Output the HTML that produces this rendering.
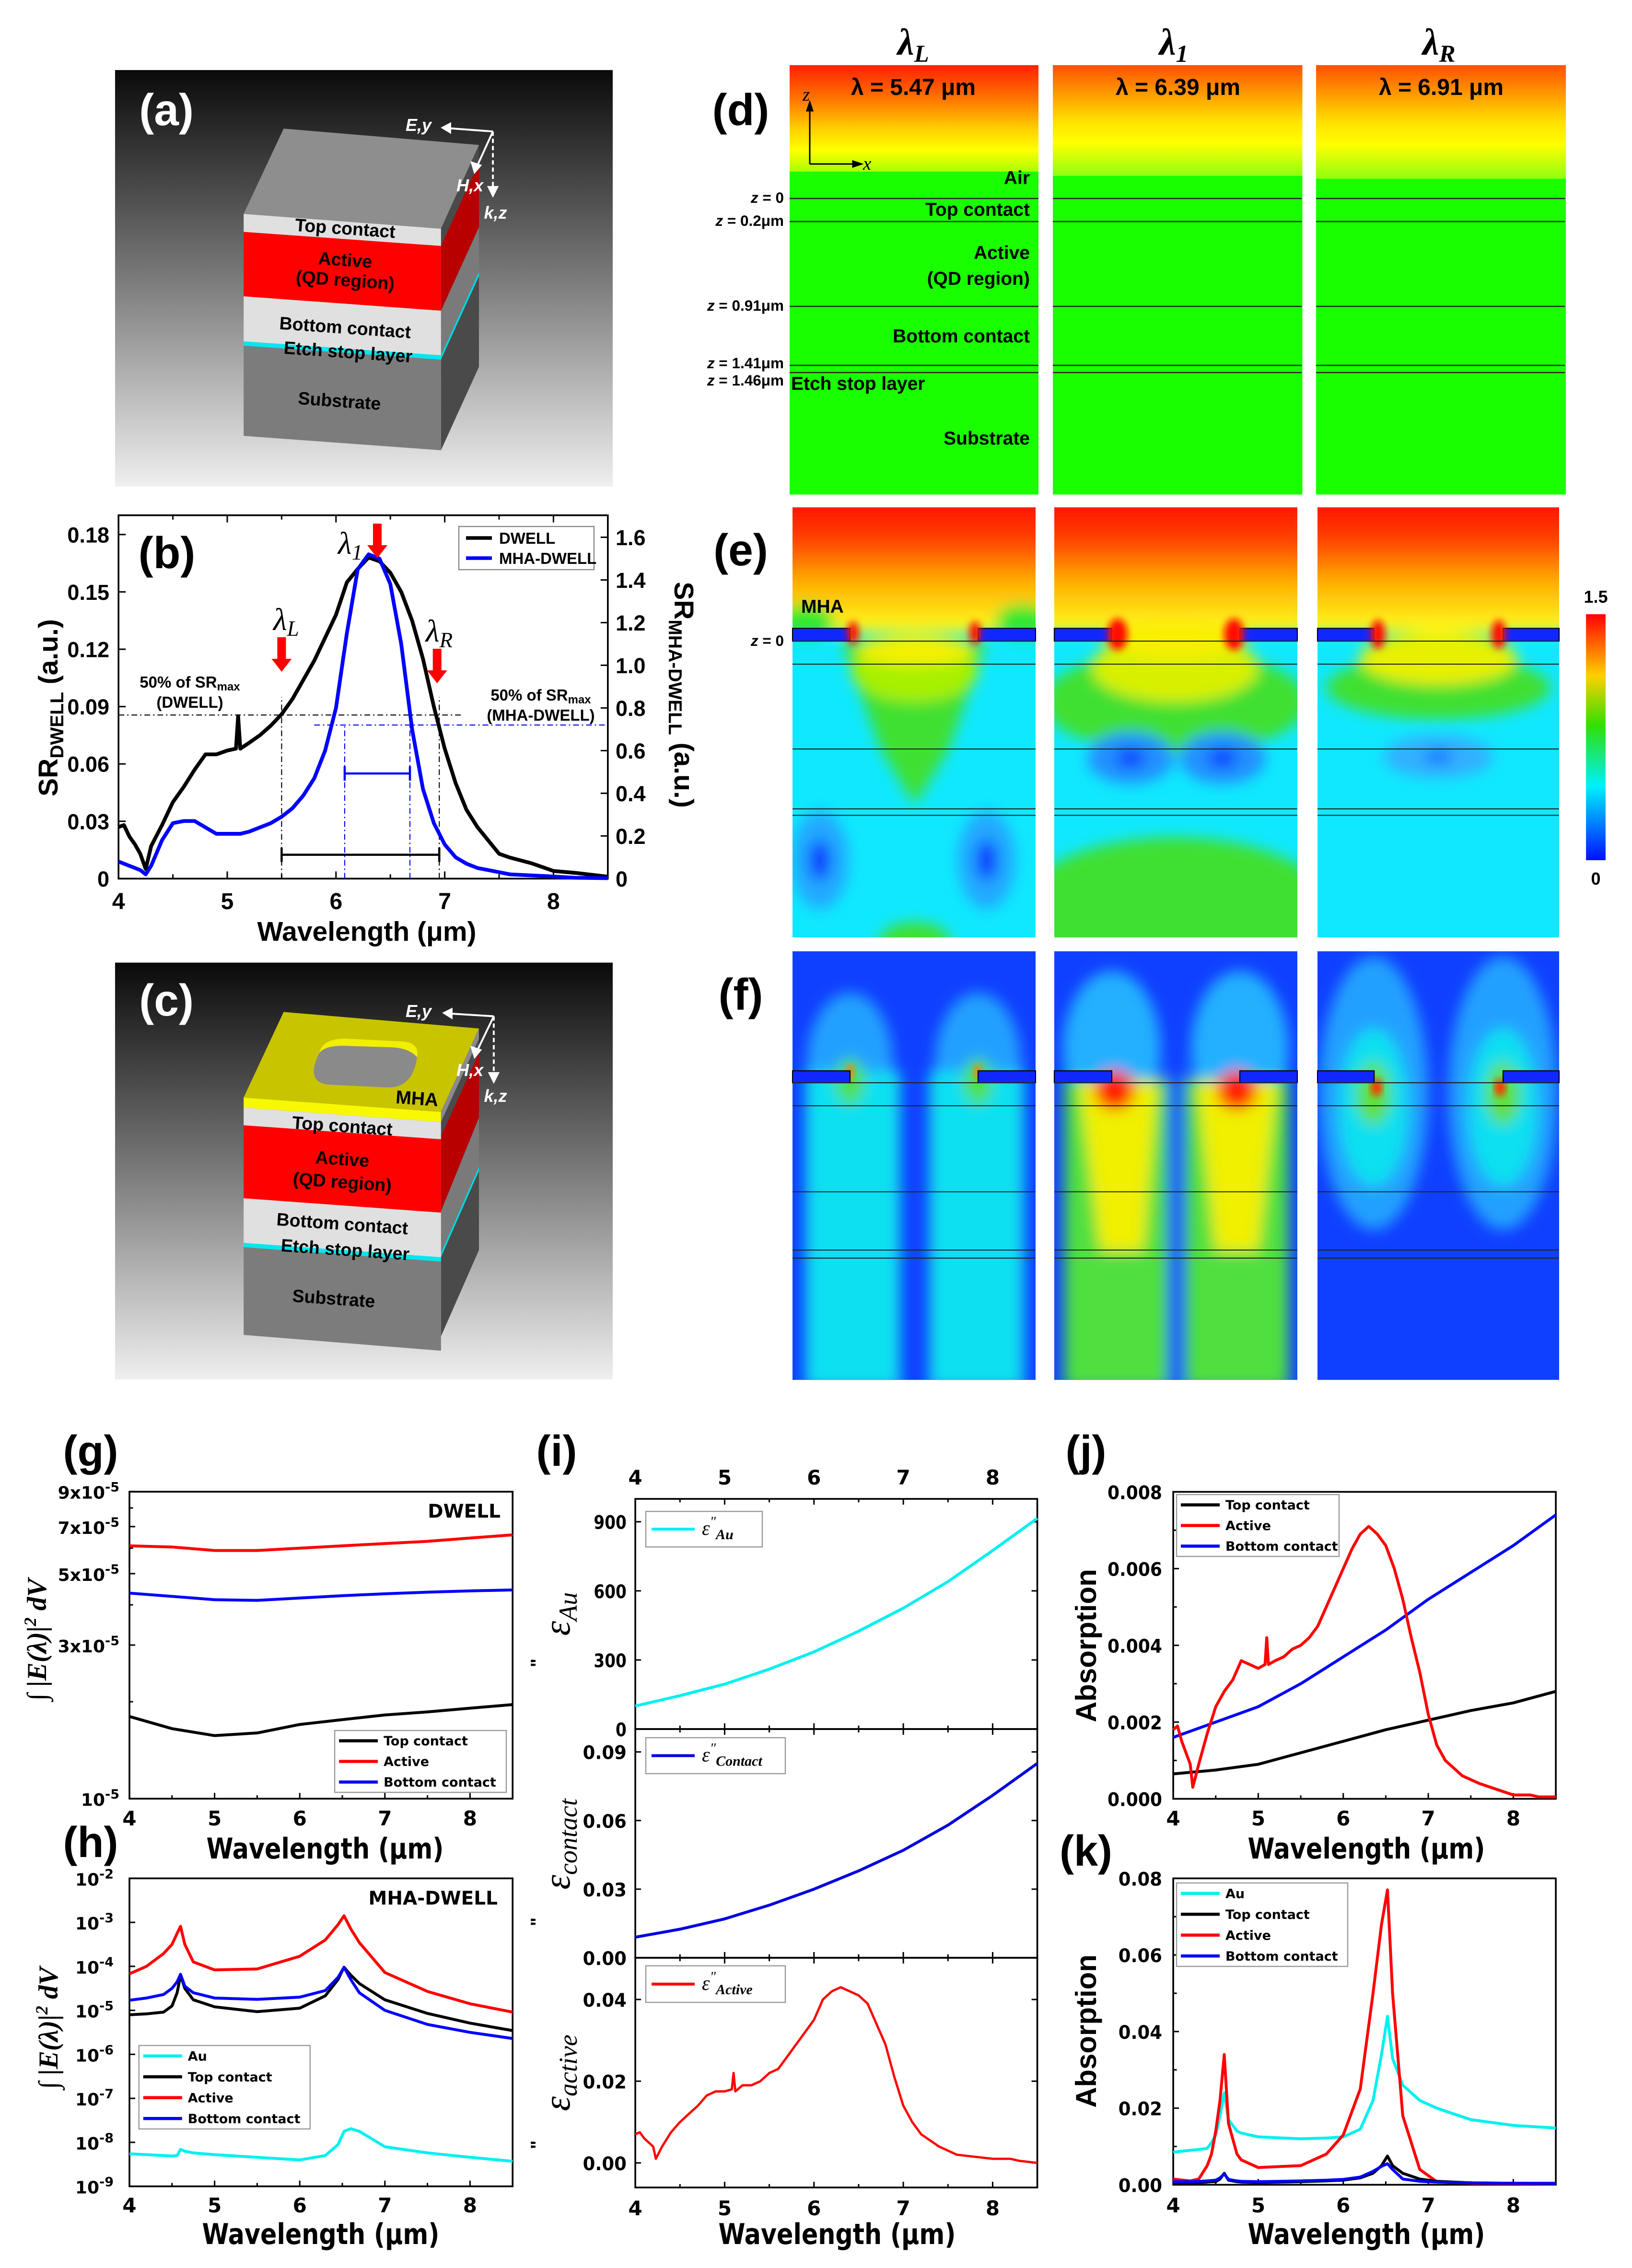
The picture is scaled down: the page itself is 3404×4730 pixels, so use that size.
<!DOCTYPE html>
<html><head><meta charset="utf-8"><title>MHA-DWELL figure</title>
<style>
html,body{margin:0;padding:0;background:#fff;}
svg{display:block;}
text{font-family:"Liberation Sans",Arial,sans-serif;}
.wb{font-family:"DejaVu Sans","Liberation Sans",sans-serif;font-weight:bold;}
.lb{font-family:"Liberation Sans",sans-serif;font-weight:bold;}
.sr{font-family:"Liberation Serif",serif;font-style:italic;}
</style></head>
<body>
<svg id="fig" xmlns="http://www.w3.org/2000/svg" width="3404" height="4730" viewBox="0 0 1134.667 1576.667">
<defs>
<linearGradient id="bgGrad" x1="0" y1="0" x2="0" y2="1"><stop offset="0" stop-color="#0a0a0a"/><stop offset="0.5" stop-color="#7a7a7a"/><stop offset="1" stop-color="#efefef"/></linearGradient>
<linearGradient id="dTopL" x1="0" y1="0" x2="0" y2="1"><stop offset="0" stop-color="#ff2000"/><stop offset="0.3" stop-color="#ff7000"/><stop offset="0.6" stop-color="#ffd000"/><stop offset="0.8" stop-color="#ffff00"/><stop offset="1" stop-color="#a8ff00"/></linearGradient>
<linearGradient id="dTop" x1="0" y1="0" x2="0" y2="1"><stop offset="0" stop-color="#ff5000"/><stop offset="0.25" stop-color="#ff9800"/><stop offset="0.5" stop-color="#ffe000"/><stop offset="0.7" stop-color="#ffff00"/><stop offset="1" stop-color="#90ff10"/></linearGradient>
<linearGradient id="eTop" x1="0" y1="0" x2="0" y2="1"><stop offset="0" stop-color="#ff0000"/><stop offset="0.35" stop-color="#ff4000"/><stop offset="0.65" stop-color="#ffb000"/><stop offset="1" stop-color="#ffff20"/></linearGradient>
<linearGradient id="cbar" x1="0" y1="0" x2="0" y2="1"><stop offset="0" stop-color="#ff0000"/><stop offset="0.25" stop-color="#ffd000"/><stop offset="0.45" stop-color="#30e000"/><stop offset="0.7" stop-color="#00f0ff"/><stop offset="1" stop-color="#0010ff"/></linearGradient>
<filter id="blur" x="-20%" y="-20%" width="140%" height="140%"><feGaussianBlur stdDeviation="5"/></filter>
<filter id="blur2" x="-20%" y="-20%" width="140%" height="140%"><feGaussianBlur stdDeviation="2.5"/></filter>
<clipPath id="c1"><rect x="551" y="352.7" width="169" height="299"/></clipPath>
<clipPath id="c2"><rect x="733" y="352.7" width="169" height="299"/></clipPath>
<clipPath id="c3"><rect x="916" y="352.7" width="168" height="299"/></clipPath>
<clipPath id="f1"><rect x="551" y="661.3" width="169" height="298"/></clipPath>
<clipPath id="f2"><rect x="733" y="661.3" width="169" height="298"/></clipPath>
<clipPath id="f3"><rect x="916" y="661.3" width="168" height="298"/></clipPath>
</defs>

<!-- Panel (a) -->
<g>
<rect x="80" y="48.7" width="346" height="289.5" fill="url(#bgGrad)"/>
<polygon points="169.4,148.7 197.2,89.4 333,100.8 306.6,159" fill="#8e8e8e"/>
<polygon points="306.6,159 333,100.8 333,255 306.6,313" fill="#4a4a4a"/>
<polygon points="306.6,171 333,113 333,158 306.6,216" fill="#b80000"/>
<polygon points="306.6,216 333,158 333,189 306.6,247" fill="#7a7a7a"/>
<polygon points="306.6,247 333,189 333,192 306.6,250" fill="#00d8e0"/>
<polygon points="169.4,148.7 306.6,159 306.6,171 169.4,161.2" fill="#e0e0e0"/>
<polygon points="169.4,161.2 306.6,171 306.6,216 169.4,206" fill="#ff0000"/>
<polygon points="169.4,206 306.6,216 306.6,247 169.4,237.3" fill="#e0e0e0"/>
<polygon points="169.4,237.3 306.6,247 306.6,250 169.4,240.3" fill="#00e8f0"/>
<polygon points="169.4,240.3 306.6,250 306.6,313 169.4,303" fill="#7c7c7c"/>
<text class="lb" x="240" y="163" font-size="12.5" text-anchor="middle" transform="rotate(4 240 159)">Top contact</text>
<text class="lb" x="240" y="185" font-size="12.5" text-anchor="middle" transform="rotate(4 240 181)">Active</text>
<text class="lb" x="240" y="199" font-size="12.5" text-anchor="middle" transform="rotate(4 240 195)">(QD region)</text>
<text class="lb" x="240" y="232" font-size="12.5" text-anchor="middle" transform="rotate(4 240 228)">Bottom contact</text>
<text class="lb" x="242" y="249" font-size="12.5" text-anchor="middle" transform="rotate(4 242 245)">Etch stop layer</text>
<text class="lb" x="236" y="283" font-size="12.5" text-anchor="middle" transform="rotate(4 236 279)">Substrate</text>
<g stroke="#fff" stroke-width="1.3" fill="#fff">
<line x1="342.7" y1="91.4" x2="310" y2="89"/><polygon points="307.7,88.8 313,86 313,92"/>
<line x1="342.7" y1="91.4" x2="331" y2="117"/><polygon points="330,119.7 328,113 334,115"/>
<line x1="342.7" y1="91.4" x2="342.7" y2="132" stroke-dasharray="3,2"/><polygon points="342.7,136 339.7,130 345.7,130"/>
</g>
<text x="291" y="91" font-size="12" fill="#fff" font-weight="bold" font-style="italic" text-anchor="middle">E,y</text>
<text x="326.7" y="133" font-size="12" fill="#fff" font-weight="bold" font-style="italic" text-anchor="middle">H,x</text>
<text x="344.5" y="152" font-size="12" fill="#fff" font-weight="bold" font-style="italic" text-anchor="middle">k,z</text>
<text class="lb" x="115.7" y="87" font-size="31" fill="#fff" text-anchor="middle">(a)</text>
</g>

<!-- Panel (c) -->
<g>
<rect x="80" y="669.2" width="346" height="289.8" fill="url(#bgGrad)"/>
<polygon points="169.4,763 197.2,703.5 333,715 306.6,773" fill="#c8c400"/>
<path d="M222,732 Q224,722 240,722 L280,724 Q292,725 290,735 Q287,756 270,756 L228,754 Q212,752 222,732 Z" fill="#8a8a8a"/>
<path d="M222,732 Q224,722 240,722 L280,724 Q292,725 290,735 Q284,728 270,728 L238,727 Q226,727 222,732 Z" fill="#f0f000"/>
<polygon points="306.6,773 333,715 333,869 306.6,929" fill="#4a4a4a"/>
<polygon points="306.6,773 333,715 333,722 306.6,780" fill="#8a8a8a"/>
<polygon points="306.6,790 333,732 333,777 306.6,842" fill="#b80000"/>
<polygon points="306.6,842 333,777 333,811 306.6,871" fill="#7a7a7a"/>
<polygon points="306.6,871 333,811 333,814 306.6,874" fill="#00d8e0"/>
<polygon points="169.4,763 306.6,773 306.6,780 169.4,770" fill="#f8f800"/>
<polygon points="169.4,770 306.6,780 306.6,792 169.4,782.3" fill="#e0e0e0"/>
<polygon points="169.4,782.3 306.6,792 306.6,843 169.4,833" fill="#ff0000"/>
<polygon points="169.4,833 306.6,843 306.6,874 169.4,864" fill="#e0e0e0"/>
<polygon points="169.4,864 306.6,874 306.6,877 169.4,867" fill="#00e8f0"/>
<polygon points="169.4,867 306.6,877 306.6,939 169.4,928" fill="#7c7c7c"/>
<text class="lb" x="290" y="768" font-size="13" text-anchor="middle" transform="rotate(4 290 763)">MHA</text>
<text class="lb" x="238" y="787" font-size="12.5" text-anchor="middle" transform="rotate(4 238 783)">Top contact</text>
<text class="lb" x="238" y="810" font-size="12.5" text-anchor="middle" transform="rotate(4 238 806)">Active</text>
<text class="lb" x="238" y="826" font-size="12.5" text-anchor="middle" transform="rotate(4 238 822)">(QD region)</text>
<text class="lb" x="238" y="855" font-size="12.5" text-anchor="middle" transform="rotate(4 238 851)">Bottom contact</text>
<text class="lb" x="240" y="873" font-size="12.5" text-anchor="middle" transform="rotate(4 240 869)">Etch stop layer</text>
<text class="lb" x="232" y="907" font-size="12.5" text-anchor="middle" transform="rotate(4 232 903)">Substrate</text>
<g stroke="#fff" stroke-width="1.3" fill="#fff">
<line x1="343.3" y1="706.5" x2="311" y2="704.5"/><polygon points="308.7,704.2 314,701.5 314,707.5"/>
<line x1="343.3" y1="706.5" x2="331" y2="732"/><polygon points="330,734.8 328,728 334,730"/>
<line x1="343.3" y1="706.5" x2="343.3" y2="748" stroke-dasharray="3,2"/><polygon points="343.3,752 340.3,746 346.3,746"/>
</g>
<text x="291" y="707" font-size="12" fill="#fff" font-weight="bold" font-style="italic" text-anchor="middle">E,y</text>
<text x="326.7" y="748" font-size="12" fill="#fff" font-weight="bold" font-style="italic" text-anchor="middle">H,x</text>
<text x="344.5" y="766" font-size="12" fill="#fff" font-weight="bold" font-style="italic" text-anchor="middle">k,z</text>
<text class="lb" x="115.7" y="706" font-size="31" fill="#fff" text-anchor="middle">(c)</text>
</g>

<!-- Panel (d) -->
<g>
<text class="sr" font-weight="bold" x="624" y="38" font-size="26">λ<tspan font-size="17" dy="5">L</tspan></text>
<text class="sr" font-weight="bold" x="806" y="38" font-size="26">λ<tspan font-size="17" dy="5">1</tspan></text>
<text class="sr" font-weight="bold" x="989" y="38" font-size="26">λ<tspan font-size="17" dy="5">R</tspan></text>
<rect x="549" y="45.3" width="173" height="298.5" fill="#1aff00"/>
<rect x="549" y="45.3" width="173" height="74" fill="url(#dTopL)"/>
<rect x="732" y="45.3" width="173.5" height="298.5" fill="#1aff00"/>
<rect x="732" y="45.3" width="173.5" height="77" fill="url(#dTop)"/>
<rect x="915" y="45.3" width="173.7" height="298.5" fill="#1aff00"/>
<rect x="915" y="45.3" width="173.7" height="79" fill="url(#dTop)"/>
<g stroke="#222" stroke-width="0.8">
<line x1="549" y1="138" x2="722" y2="138"/><line x1="549" y1="154" x2="722" y2="154"/><line x1="549" y1="213" x2="722" y2="213"/><line x1="549" y1="254" x2="722" y2="254"/><line x1="549" y1="259" x2="722" y2="259"/>
<line x1="732" y1="138" x2="905" y2="138"/><line x1="732" y1="154" x2="905" y2="154"/><line x1="732" y1="213" x2="905" y2="213"/><line x1="732" y1="254" x2="905" y2="254"/><line x1="732" y1="259" x2="905" y2="259"/>
<line x1="915" y1="138" x2="1088" y2="138"/><line x1="915" y1="154" x2="1088" y2="154"/><line x1="915" y1="213" x2="1088" y2="213"/><line x1="915" y1="254" x2="1088" y2="254"/><line x1="915" y1="259" x2="1088" y2="259"/>
</g>
<text class="lb" x="635" y="66" font-size="16" text-anchor="middle">λ = 5.47 μm</text>
<text class="lb" x="819" y="66" font-size="16" text-anchor="middle">λ = 6.39 μm</text>
<text class="lb" x="1002" y="66" font-size="16" text-anchor="middle">λ = 6.91 μm</text>
<g stroke="#000" stroke-width="1" fill="#000">
<line x1="563" y1="114" x2="563" y2="74"/><polygon points="563,71 561,77 565,77"/>
<line x1="563" y1="114" x2="596" y2="114"/><polygon points="599,114 593,112 593,116"/>
</g>
<text class="sr" x="558" y="70" font-size="13">z</text>
<text class="sr" x="600" y="118" font-size="13">x</text>
<g class="lb" font-size="13" text-anchor="end">
<text x="716" y="128">Air</text>
<text x="716" y="150">Top contact</text>
<text x="716" y="180">Active</text>
<text x="716" y="198">(QD region)</text>
<text x="716" y="238">Bottom contact</text>
<text x="716" y="309">Substrate</text>
</g>
<text class="lb" x="550" y="271" font-size="13">Etch stop layer</text>
<g class="lb" font-size="10.5" text-anchor="end">
<text x="545" y="141"><tspan font-style="italic">z</tspan> = 0</text>
<text x="545" y="157"><tspan font-style="italic">z</tspan> = 0.2μm</text>
<text x="545" y="216"><tspan font-style="italic">z</tspan> = 0.91μm</text>
<text x="545" y="256"><tspan font-style="italic">z</tspan> = 1.41μm</text>
<text x="545" y="268"><tspan font-style="italic">z</tspan> = 1.46μm</text>
</g>
<text class="lb" x="515" y="87" font-size="31" text-anchor="middle">(d)</text>
</g>

<!-- Panel (e) -->
<g>
<g clip-path="url(#c1)">
<rect x="551" y="352.7" width="169" height="299" fill="#10e8ff"/>
<g filter="url(#blur)">
<rect x="540" y="340" width="190" height="100" fill="url(#eTop)"/>
<ellipse cx="560" cy="432" rx="20" ry="12" fill="#30e830"/><ellipse cx="712" cy="432" rx="20" ry="12" fill="#30e830"/>
<path d="M585,446 L686,446 L660,520 L636,560 L612,520 Z" fill="#40e030"/>
<ellipse cx="636" cy="466" rx="44" ry="22" fill="#a8f000"/>
<ellipse cx="636" cy="452" rx="40" ry="10" fill="#f8f000"/>
<ellipse cx="570" cy="598" rx="20" ry="34" fill="#20a8ff"/><ellipse cx="686" cy="598" rx="20" ry="34" fill="#20a8ff"/>
<ellipse cx="570" cy="598" rx="7" ry="14" fill="#1030ff"/><ellipse cx="686" cy="598" rx="7" ry="14" fill="#1030ff"/>
<ellipse cx="636" cy="655" rx="25" ry="14" fill="#40e030"/>
</g>
</g>
<g clip-path="url(#c2)">
<rect x="733" y="352.7" width="169" height="299" fill="#10e8ff"/>
<g filter="url(#blur)">
<rect x="720" y="340" width="190" height="100" fill="url(#eTop)"/>
<ellipse cx="817" cy="488" rx="92" ry="36" fill="#40e030"/>
<ellipse cx="817" cy="464" rx="58" ry="24" fill="#d8f000"/>
<ellipse cx="817" cy="445" rx="48" ry="12" fill="#f8f000"/>
<ellipse cx="817" cy="640" rx="115" ry="58" fill="#40e030"/>
<ellipse cx="786" cy="527" rx="30" ry="18" fill="#2090ff"/><ellipse cx="850" cy="527" rx="30" ry="18" fill="#2090ff"/>
<ellipse cx="786" cy="527" rx="10" ry="6" fill="#1030ff"/><ellipse cx="850" cy="527" rx="10" ry="6" fill="#1030ff"/>
</g>
</g>
<g clip-path="url(#c3)">
<rect x="916" y="352.7" width="168" height="299" fill="#10e8ff"/>
<g filter="url(#blur)">
<rect x="905" y="340" width="190" height="100" fill="url(#eTop)"/>
<ellipse cx="1000" cy="478" rx="78" ry="22" fill="#40e030"/>
<ellipse cx="1000" cy="458" rx="55" ry="18" fill="#e8f000"/>
<ellipse cx="1000" cy="526" rx="38" ry="15" fill="#30b0ff"/>
<ellipse cx="1000" cy="526" rx="10" ry="4" fill="#1060ff"/>
</g>
</g>
<g fill="#1028ff" stroke="#000" stroke-width="0.7">
<rect x="551" y="436.8" width="40" height="8.9"/><rect x="680" y="436.8" width="40" height="8.9"/>
<rect x="733" y="436.8" width="40" height="8.9"/><rect x="862" y="436.8" width="40" height="8.9"/>
<rect x="916" y="436.8" width="39.4" height="8.9"/><rect x="1045" y="436.8" width="39" height="8.9"/>
</g>
<g fill="#ff1000" filter="url(#blur2)">
<ellipse cx="593" cy="440" rx="4" ry="8"/><ellipse cx="678" cy="440" rx="4" ry="8"/>
<ellipse cx="777" cy="441" rx="7" ry="11"/><ellipse cx="858" cy="441" rx="7" ry="11"/>
<ellipse cx="958" cy="441" rx="5" ry="10"/><ellipse cx="1042" cy="441" rx="5" ry="10"/>
</g>
<g stroke="#222" stroke-width="0.7">
<line x1="551" y1="445.7" x2="720" y2="445.7"/><line x1="551" y1="461.7" x2="720" y2="461.7"/><line x1="551" y1="520.7" x2="720" y2="520.7"/><line x1="551" y1="562.3" x2="720" y2="562.3"/><line x1="551" y1="566.8" x2="720" y2="566.8"/>
<line x1="733" y1="445.7" x2="902" y2="445.7"/><line x1="733" y1="461.7" x2="902" y2="461.7"/><line x1="733" y1="520.7" x2="902" y2="520.7"/><line x1="733" y1="562.3" x2="902" y2="562.3"/><line x1="733" y1="566.8" x2="902" y2="566.8"/>
<line x1="916" y1="445.7" x2="1084" y2="445.7"/><line x1="916" y1="461.7" x2="1084" y2="461.7"/><line x1="916" y1="520.7" x2="1084" y2="520.7"/><line x1="916" y1="562.3" x2="1084" y2="562.3"/><line x1="916" y1="566.8" x2="1084" y2="566.8"/>
</g>
<text class="lb" x="557" y="426" font-size="13">MHA</text>
<text class="lb" x="545" y="449" font-size="10.5" text-anchor="end"><tspan font-style="italic">z</tspan> = 0</text>
<text class="lb" x="515" y="393" font-size="31" text-anchor="middle">(e)</text>
<rect x="1102.7" y="427" width="13.6" height="171" fill="url(#cbar)"/>
<text class="lb" x="1109.5" y="419" font-size="12" text-anchor="middle">1.5</text>
<text class="lb" x="1109.5" y="615" font-size="12" text-anchor="middle">0</text>
</g>

<!-- Panel (f) -->
<g>
<g clip-path="url(#f1)">
<rect x="551" y="661.3" width="169" height="298" fill="#1040ff"/>
<g filter="url(#blur)">
<ellipse cx="591" cy="740" rx="30" ry="50" fill="#20a0ff"/><ellipse cx="680" cy="740" rx="30" ry="50" fill="#20a0ff"/>
<rect x="560" y="745" width="66" height="220" fill="#10e0f0"/><rect x="646" y="745" width="66" height="220" fill="#10e0f0"/>
<ellipse cx="591" cy="752" rx="10" ry="16" fill="#50e040"/><ellipse cx="680" cy="752" rx="10" ry="16" fill="#50e040"/>
</g>
<ellipse cx="591" cy="745" rx="3" ry="5" fill="#ff8000" filter="url(#blur2)"/><ellipse cx="680" cy="745" rx="3" ry="5" fill="#ff8000" filter="url(#blur2)"/>
</g>
<g clip-path="url(#f2)">
<rect x="733" y="661.3" width="169" height="298" fill="#1040ff"/>
<g filter="url(#blur)">
<ellipse cx="773" cy="730" rx="34" ry="55" fill="#20b0ff"/><ellipse cx="862" cy="730" rx="34" ry="55" fill="#20b0ff"/>
<rect x="740" y="750" width="72" height="215" fill="#50e040"/><rect x="824" y="750" width="72" height="215" fill="#50e040"/>
<path d="M750,752 L805,752 L795,870 L765,870 Z" fill="#f0f000"/><path d="M832,752 L888,752 L875,870 L845,870 Z" fill="#f0f000"/>
<ellipse cx="775" cy="758" rx="14" ry="14" fill="#ff2000"/><ellipse cx="860" cy="758" rx="14" ry="14" fill="#ff2000"/>
<rect x="813" y="740" width="9" height="225" fill="#1040ff"/>
</g>
</g>
<g clip-path="url(#f3)">
<rect x="916" y="661.3" width="168" height="298" fill="#1040ff"/>
<g filter="url(#blur)">
<ellipse cx="955" cy="760" rx="38" ry="95" fill="#20a0ff"/><ellipse cx="1045" cy="760" rx="38" ry="95" fill="#20a0ff"/>
<ellipse cx="955" cy="770" rx="24" ry="55" fill="#10e0f0"/><ellipse cx="1045" cy="770" rx="24" ry="55" fill="#10e0f0"/>
<ellipse cx="955" cy="760" rx="12" ry="22" fill="#60e030"/><ellipse cx="1045" cy="760" rx="12" ry="22" fill="#60e030"/>
</g>
<ellipse cx="957" cy="756" rx="4" ry="6" fill="#ff3000" filter="url(#blur2)"/><ellipse cx="1043" cy="756" rx="4" ry="6" fill="#ff3000" filter="url(#blur2)"/>
</g>
<g fill="#1028ff" stroke="#000" stroke-width="0.7">
<rect x="551" y="744.4" width="40" height="8.3"/><rect x="680" y="744.4" width="40" height="8.3"/>
<rect x="733" y="744.4" width="40" height="8.3"/><rect x="862" y="744.4" width="40" height="8.3"/>
<rect x="916" y="744.4" width="39.4" height="8.3"/><rect x="1045" y="744.4" width="39" height="8.3"/>
</g>
<g stroke="#222" stroke-width="0.7">
<line x1="551" y1="752.7" x2="720" y2="752.7"/><line x1="551" y1="768.7" x2="720" y2="768.7"/><line x1="551" y1="828.5" x2="720" y2="828.5"/><line x1="551" y1="869" x2="720" y2="869"/><line x1="551" y1="874.6" x2="720" y2="874.6"/>
<line x1="733" y1="752.7" x2="902" y2="752.7"/><line x1="733" y1="768.7" x2="902" y2="768.7"/><line x1="733" y1="828.5" x2="902" y2="828.5"/><line x1="733" y1="869" x2="902" y2="869"/><line x1="733" y1="874.6" x2="902" y2="874.6"/>
<line x1="916" y1="752.7" x2="1084" y2="752.7"/><line x1="916" y1="768.7" x2="1084" y2="768.7"/><line x1="916" y1="828.5" x2="1084" y2="828.5"/><line x1="916" y1="869" x2="1084" y2="869"/><line x1="916" y1="874.6" x2="1084" y2="874.6"/>
</g>
<text class="lb" x="515" y="702" font-size="31" text-anchor="middle">(f)</text>
</g>

<g id="charts"></g>
</svg>

<script>
// ---------- data (b) ----------
const bX = [4.0,4.05,4.1,4.15,4.2,4.25,4.3,4.4,4.5,4.6,4.7,4.8,4.9,5.0,5.08,5.1,5.12,5.2,5.3,5.4,5.5,5.6,5.7,5.8,5.9,6.0,6.1,6.2,6.3,6.4,6.5,6.6,6.7,6.8,6.9,7.0,7.1,7.2,7.3,7.4,7.5,7.6,7.8,8.0,8.2,8.5];
const bDwell = [0.027,0.028,0.022,0.018,0.013,0.005,0.017,0.028,0.040,0.048,0.057,0.065,0.065,0.067,0.068,0.085,0.068,0.071,0.075,0.080,0.086,0.094,0.104,0.114,0.126,0.138,0.155,0.162,0.168,0.166,0.160,0.150,0.135,0.115,0.090,0.068,0.050,0.036,0.027,0.020,0.013,0.011,0.008,0.004,0.003,0.001];
const bMha = [0.08,0.07,0.06,0.05,0.04,0.02,0.06,0.18,0.26,0.27,0.27,0.24,0.21,0.21,0.21,0.21,0.21,0.22,0.24,0.26,0.29,0.33,0.39,0.47,0.60,0.80,1.15,1.45,1.52,1.50,1.38,1.10,0.70,0.42,0.26,0.16,0.10,0.07,0.05,0.04,0.03,0.02,0.015,0.01,0.004,0.002];
const bXTicks = [4,5,6,7,8];
const bYLeftTicks = [0,0.03,0.06,0.09,0.12,0.15,0.18];
const bYLeftLabels = ['0','0.03','0.06','0.09','0.12','0.15','0.18'];
const bYRightTicks = [0,0.2,0.4,0.6,0.8,1.0,1.2,1.4,1.6];
const bYRightLabels = ['0','0.2','0.4','0.6','0.8','1.0','1.2','1.4','1.6'];
const bFwhmDwell = [5.5,6.95];
const bFwhmMha = [6.08,6.68];
const bHalfDwell = [0.0856];
const bHalfMha = [0.72];
const bArrowsX = [5.5,6.38,6.93];

// ---------- data (g) ----------
const gX = [4.0,4.5,5.0,5.5,6.0,6.5,7.0,7.5,8.0,8.5];
const gTop = [1.8e-5,1.65e-5,1.57e-5,1.6e-5,1.7e-5,1.76e-5,1.82e-5,1.86e-5,1.91e-5,1.96e-5];
const gActive = [6.1e-5,6.05e-5,5.9e-5,5.9e-5,6.0e-5,6.1e-5,6.2e-5,6.3e-5,6.45e-5,6.6e-5];
const gBottom = [4.35e-5,4.25e-5,4.15e-5,4.13e-5,4.2e-5,4.27e-5,4.33e-5,4.38e-5,4.42e-5,4.45e-5];
const gYTicks = [1e-5,3e-5,5e-5,7e-5,9e-5];
const gYLabels = [['10','-5'],['3x10','-5'],['5x10','-5'],['7x10','-5'],['9x10','-5']];

// ---------- data (h) (log10 values) ----------
const hX = [4.0,4.2,4.4,4.5,4.56,4.6,4.65,4.75,5.0,5.5,6.0,6.3,6.45,6.52,6.6,6.7,7.0,7.5,8.0,8.5];
const hActiveLog = [-4.17,-4.0,-3.71,-3.5,-3.25,-3.09,-3.5,-3.9,-4.08,-4.06,-3.77,-3.4,-3.05,-2.85,-3.15,-3.46,-4.14,-4.57,-4.85,-5.04];
const hTopLog = [-5.1,-5.08,-5.04,-4.9,-4.6,-4.2,-4.5,-4.76,-4.92,-5.03,-4.95,-4.67,-4.3,-4.02,-4.2,-4.39,-4.76,-5.07,-5.29,-5.46];
const hBottomLog = [-4.77,-4.72,-4.64,-4.5,-4.35,-4.18,-4.45,-4.6,-4.72,-4.75,-4.7,-4.55,-4.25,-4.02,-4.3,-4.6,-5.0,-5.32,-5.5,-5.64];
const hAuLog = [-8.26,-8.28,-8.3,-8.31,-8.3,-8.16,-8.2,-8.24,-8.28,-8.34,-8.4,-8.3,-8.05,-7.75,-7.69,-7.75,-8.1,-8.24,-8.34,-8.43];
const hYTicks = [-9,-8,-7,-6,-5,-4,-3,-2];

// ---------- data (i) ----------
const iX = [4.0,4.5,5.0,5.5,6.0,6.5,7.0,7.5,8.0,8.5];
const iAu = [100,145,195,260,335,425,525,640,775,915];
const iContact = [0.009,0.0125,0.017,0.023,0.030,0.038,0.047,0.058,0.071,0.085];
const iActX = [4.0,4.05,4.1,4.2,4.23,4.3,4.4,4.5,4.6,4.7,4.8,4.9,5.0,5.08,5.1,5.12,5.2,5.3,5.4,5.5,5.6,5.7,5.8,5.9,6.0,6.1,6.2,6.3,6.4,6.5,6.6,6.7,6.8,6.9,7.0,7.1,7.2,7.4,7.6,7.8,8.0,8.2,8.3,8.5];
const iActive = [0.007,0.0075,0.006,0.004,0.001,0.004,0.0075,0.010,0.012,0.014,0.0165,0.0175,0.0175,0.018,0.022,0.0175,0.019,0.019,0.020,0.022,0.023,0.026,0.029,0.032,0.035,0.040,0.042,0.043,0.042,0.041,0.039,0.034,0.029,0.021,0.014,0.010,0.007,0.004,0.002,0.0015,0.001,0.001,0.0005,0.0];
const iAuTicks = [0,300,600,900];
const iCTicks = [0,0.03,0.06,0.09];
const iCLabels = ['0.00','0.03','0.06','0.09'];
const iATicks = [0,0.02,0.04];
const iALabels = ['0.00','0.02','0.04'];

// ---------- data (j) ----------
const jActX = iActX;
const jActive = [0.0018,0.0019,0.0015,0.0009,0.0003,0.0009,0.0017,0.0024,0.0028,0.0031,0.0036,0.0035,0.0034,0.0035,0.0042,0.0035,0.0036,0.0037,0.0039,0.0040,0.0042,0.0045,0.0050,0.0055,0.0060,0.0065,0.0069,0.0071,0.0069,0.0066,0.0060,0.0052,0.0042,0.0033,0.0022,0.0014,0.0010,0.0006,0.0004,0.00025,0.0001,0.0001,0.00005,0.00005];
const jX = [4.0,4.5,5.0,5.5,6.0,6.5,7.0,7.5,8.0,8.5];
const jBottom = [0.0016,0.0020,0.0024,0.0030,0.0037,0.0044,0.0052,0.0059,0.0066,0.0074];
const jTop = [0.00065,0.00075,0.0009,0.0012,0.0015,0.0018,0.00205,0.0023,0.0025,0.0028];
const jYTicks = [0,0.002,0.004,0.006,0.008];
const jYLabels = ['0.000','0.002','0.004','0.006','0.008'];

// ---------- data (k) ----------
const kX = [4.0,4.2,4.3,4.4,4.45,4.5,4.55,4.6,4.65,4.75,4.8,5.0,5.5,5.8,6.0,6.2,6.35,6.45,6.52,6.58,6.7,6.9,7.1,7.5,8.0,8.5];
const kAu = [0.0085,0.009,0.0092,0.0095,0.011,0.013,0.018,0.024,0.017,0.014,0.0135,0.0125,0.012,0.0122,0.0125,0.0145,0.022,0.034,0.044,0.033,0.026,0.022,0.020,0.017,0.0155,0.0148];
const kActive = [0.0015,0.001,0.0015,0.005,0.008,0.014,0.022,0.034,0.016,0.008,0.0065,0.0045,0.005,0.008,0.013,0.025,0.050,0.068,0.077,0.050,0.018,0.004,0.0008,0.0004,0.0003,0.0002];
const kTop = [0.0005,0.0005,0.0006,0.0007,0.0008,0.0008,0.0015,0.003,0.0012,0.0008,0.0007,0.0006,0.0008,0.001,0.0012,0.0018,0.003,0.005,0.0075,0.005,0.003,0.0015,0.0009,0.0005,0.0004,0.0003];
const kBottom = [0.0008,0.0008,0.0009,0.001,0.0011,0.0012,0.0018,0.0028,0.0014,0.001,0.0009,0.0008,0.001,0.0012,0.0014,0.002,0.0035,0.0048,0.0055,0.004,0.0015,0.0009,0.0007,0.0005,0.0004,0.0004];
const kYTicks = [0,0.02,0.04,0.06,0.08];
const kYLabels = ['0.00','0.02','0.04','0.06','0.08'];
const wlTicks = [4,5,6,7,8];

// ---------- helpers ----------
const NS = 'http://www.w3.org/2000/svg';
const root = document.getElementById('charts');
function mk(parent, tag, attrs, name) {
  const e = document.createElementNS(NS, tag);
  for (const k in attrs) e.setAttribute(k, attrs[k]);
  
  
  parent.appendChild(e);
  return e;
}
function txt(parent, x, y, s, size, anchor, cls, name) {
  const t = mk(parent, 'text', {x: x, y: y, 'font-size': size, 'text-anchor': anchor, 'class': cls}, name);
  t.textContent = s;
  return t;
}
function lin(d0, d1, r0, r1) { return v => r0 + (v - d0) / (d1 - d0) * (r1 - r0); }
function pathD(xs, ys, sx, sy) { return xs.map((x, i) => (i ? 'L' : 'M') + sx(x).toFixed(2) + ',' + sy(ys[i]).toFixed(2)).join(''); }
function series(g, xs, ys, sx, sy, color, w, name) {
  mk(g, 'path', {d: pathD(xs, ys, sx, sy), fill: 'none', stroke: color, 'stroke-width': w, 'stroke-linejoin': 'round'}, name);
}
function frame(g, x0, y0, x1, y1, name) {
  mk(g, 'rect', {x: x0, y: y0, width: x1 - x0, height: y1 - y0, fill: 'none', stroke: '#000', 'stroke-width': 1.2}, name);
}
function xTicks(g, ticks, sx, yb, yt, len, minorStep, name) {
  ticks.forEach(t => {
    mk(g, 'line', {x1: sx(t), y1: yb, x2: sx(t), y2: yb - len, stroke: '#000', 'stroke-width': 1}, name + '-tick');
    if (yt !== null) mk(g, 'line', {x1: sx(t), y1: yt, x2: sx(t), y2: yt + len, stroke: '#000', 'stroke-width': 1}, name + '-top-tick');
    const m = t + minorStep;
    if (m <= 8.5) {
      mk(g, 'line', {x1: sx(m), y1: yb, x2: sx(m), y2: yb - len * 0.6, stroke: '#000', 'stroke-width': 1}, name + '-minor-tick');
      if (yt !== null) mk(g, 'line', {x1: sx(m), y1: yt, x2: sx(m), y2: yt + len * 0.6, stroke: '#000', 'stroke-width': 1}, name + '-minor-top-tick');
    }
  });
}
function yTicks(g, ticks, sy, xl, xr, len, name) {
  ticks.forEach(t => {
    mk(g, 'line', {x1: xl, y1: sy(t), x2: xl + len, y2: sy(t), stroke: '#000', 'stroke-width': 1}, name + '-tick');
    if (xr !== null) mk(g, 'line', {x1: xr, y1: sy(t), x2: xr - len, y2: sy(t), stroke: '#000', 'stroke-width': 1}, name + '-right-tick');
  });
}
function legend(g, x0, y0, x1, y1, entries, size, name) {
  mk(g, 'rect', {x: x0, y: y0, width: x1 - x0, height: y1 - y0, fill: '#fff', stroke: '#999', 'stroke-width': 0.8}, name + '-box');
  const step = (y1 - y0) / entries.length;
  entries.forEach((e, i) => {
    const cy = y0 + step * (i + 0.5);
    mk(g, 'line', {x1: x0 + 3, y1: cy, x2: x0 + 30, y2: cy, stroke: e[1], 'stroke-width': 2.2}, name + '-swatch');
    txt(g, x0 + 34, cy + size * 0.36, e[0], size, 'start', 'wb', name + '-entry');
  });
}
function numLabel(g, x, y, s, name) {
  const t = txt(g, x, y, s, 13, 'end', 'wb', name);
  t.setAttribute('textLength', s.length * 7.6);
  t.setAttribute('lengthAdjust', 'spacingAndGlyphs');
  return t;
}

// ---------- panel (b) ----------
(function(){
  const g = mk(root, 'g', {}, 'panel-b-spectral-response');
  const sx = lin(4, 8.5, 82.4, 422.6);
  const syL = lin(0, 0.18, 610.8, 371.6);
  const syR = lin(0, 1.6, 610.8, 373.5);
  frame(g, 82.4, 358.2, 422.6, 610.8, 'b-plot-frame');
  xTicks(g, bXTicks, sx, 610.8, 358.2, 5, 0.5, 'b-x');
  yTicks(g, bYLeftTicks, syL, 82.4, null, 5, 'b-y-left');
  yTicks(g, bYRightTicks, syR, 422.6 - 5, null, 5, 'b-y-right');
  bXTicks.forEach(t => txt(g, sx(t), 632, String(t), 16, 'middle', 'lb', 'b-x-tick-label'));
  bYLeftTicks.forEach((t, i) => txt(g, 76, syL(t) + 5.5, bYLeftLabels[i], 15, 'end', 'lb', 'b-y-left-tick-label'));
  bYRightTicks.forEach((t, i) => txt(g, 428, syR(t) + 5.5, bYRightLabels[i], 15, 'start', 'lb', 'b-y-right-tick-label'));
  mk(g, 'line', {x1: sx(4), y1: syL(bHalfDwell[0]), x2: sx(7.15), y2: syL(bHalfDwell[0]), stroke: '#000', 'stroke-width': 0.7, 'stroke-dasharray': '4,2,1,2'}, 'b-half-max-dwell-line');
  mk(g, 'line', {x1: sx(5.8), y1: syR(bHalfMha[0]), x2: sx(8.5), y2: syR(bHalfMha[0]), stroke: '#0000ff', 'stroke-width': 0.7, 'stroke-dasharray': '4,2,1,2'}, 'b-half-max-mha-line');
  bFwhmDwell.forEach(x => mk(g, 'line', {x1: sx(x), y1: syL(0), x2: sx(x), y2: syL(0.095), stroke: '#000', 'stroke-width': 0.7, 'stroke-dasharray': '4,2,1,2'}, 'b-fwhm-dwell-vline'));
  bFwhmMha.forEach(x => mk(g, 'line', {x1: sx(x), y1: syL(0), x2: sx(x), y2: syR(bHalfMha[0]), stroke: '#0000ff', 'stroke-width': 0.7, 'stroke-dasharray': '4,2,1,2'}, 'b-fwhm-mha-vline'));
  mk(g, 'line', {x1: sx(bFwhmDwell[0]), y1: syL(0.0125), x2: sx(bFwhmDwell[1]), y2: syL(0.0125), stroke: '#000', 'stroke-width': 1.5}, 'b-fwhm-dwell-bar');
  bFwhmDwell.forEach(x => mk(g, 'line', {x1: sx(x), y1: syL(0.0125) - 5, x2: sx(x), y2: syL(0.0125) + 5, stroke: '#000', 'stroke-width': 1.5}, 'b-fwhm-dwell-cap'));
  mk(g, 'line', {x1: sx(bFwhmMha[0]), y1: syL(0.055), x2: sx(bFwhmMha[1]), y2: syL(0.055), stroke: '#0000ff', 'stroke-width': 1.5}, 'b-fwhm-mha-bar');
  bFwhmMha.forEach(x => mk(g, 'line', {x1: sx(x), y1: syL(0.055) - 5, x2: sx(x), y2: syL(0.055) + 5, stroke: '#0000ff', 'stroke-width': 1.5}, 'b-fwhm-mha-cap'));
  series(g, bX, bDwell, sx, syL, '#000', 2.6, 'b-series-dwell');
  series(g, bX, bMha, sx, syR, '#0000ff', 2.6, 'b-series-mha-dwell');
  const arrowTops = [443, 364, 451];
  bArrowsX.forEach((x, i) => {
    mk(g, 'rect', {x: sx(x) - 3, y: arrowTops[i], width: 6, height: 16, fill: '#ff0000'}, 'b-arrow-shaft');
    mk(g, 'polygon', {points: (sx(x) - 7) + ',' + (arrowTops[i] + 15) + ' ' + (sx(x) + 7) + ',' + (arrowTops[i] + 15) + ' ' + sx(x) + ',' + (arrowTops[i] + 24), fill: '#ff0000'}, 'b-arrow-head');
  });
  const l1 = txt(g, 235, 385, 'λ', 22, 'start', 'sr', 'b-lambda-1-label');
  const s1 = mk(l1, 'tspan', {'font-size': 15, dy: 4}, 'b-lambda-1-sub'); s1.textContent = '1';
  const lL = txt(g, 190, 438, 'λ', 22, 'start', 'sr', 'b-lambda-l-label');
  const sL = mk(lL, 'tspan', {'font-size': 15, dy: 4}, 'b-lambda-l-sub'); sL.textContent = 'L';
  const lR = txt(g, 296, 446, 'λ', 22, 'start', 'sr', 'b-lambda-r-label');
  const sR = mk(lR, 'tspan', {'font-size': 15, dy: 4}, 'b-lambda-r-sub'); sR.textContent = 'R';
  const a1 = txt(g, 132, 478, '50% of SR', 11, 'middle', 'lb', 'b-annot-dwell');
  const a1s = mk(a1, 'tspan', {'font-size': 8, dy: 2}, 'b-annot-dwell-sub'); a1s.textContent = 'max';
  txt(g, 132, 492, '(DWELL)', 11, 'middle', 'lb', 'b-annot-dwell-2');
  const a2 = txt(g, 376, 487, '50% of SR', 11, 'middle', 'lb', 'b-annot-mha');
  const a2s = mk(a2, 'tspan', {'font-size': 8, dy: 2}, 'b-annot-mha-sub'); a2s.textContent = 'max';
  txt(g, 376, 501, '(MHA-DWELL)', 11, 'middle', 'lb', 'b-annot-mha-2');
  mk(g, 'rect', {x: 319, y: 366, width: 94, height: 30, fill: '#fff', stroke: '#888', 'stroke-width': 0.8}, 'b-legend-box');
  mk(g, 'line', {x1: 324, y1: 374, x2: 342, y2: 374, stroke: '#000', 'stroke-width': 2.5}, 'b-legend-dwell-swatch');
  txt(g, 347, 378, 'DWELL', 11, 'start', 'lb', 'b-legend-dwell');
  mk(g, 'line', {x1: 324, y1: 388, x2: 342, y2: 388, stroke: '#0000ff', 'stroke-width': 2.5}, 'b-legend-mha-swatch');
  txt(g, 347, 392, 'MHA-DWELL', 11, 'start', 'lb', 'b-legend-mha');
  txt(g, 255, 654, 'Wavelength (μm)', 19, 'middle', 'lb', 'b-x-axis-title');
  const yt = txt(g, 0, 0, 'SR', 19, 'middle', 'lb', 'b-y-left-title');
  yt.setAttribute('transform', 'translate(40,492) rotate(-90)');
  const yts = mk(yt, 'tspan', {'font-size': 13, dy: 4}, 'b-y-left-title-sub'); yts.textContent = 'DWELL';
  const yts2 = mk(yt, 'tspan', {dy: -4}, 'b-y-left-title-unit'); yts2.textContent = ' (a.u.)';
  const yr = txt(g, 0, 0, 'SR', 19, 'middle', 'lb', 'b-y-right-title');
  yr.setAttribute('transform', 'translate(469,483) rotate(90)');
  const yrs = mk(yr, 'tspan', {'font-size': 13, dy: 4}, 'b-y-right-title-sub'); yrs.textContent = 'MHA-DWELL';
  const yrs2 = mk(yr, 'tspan', {dy: -4}, 'b-y-right-title-unit'); yrs2.textContent = ' (a.u.)';
  txt(g, 116, 395, '(b)', 31, 'middle', 'lb', 'panel-label-b');
})();

function wlAxisTitle(g, x, y, name) {
  const t = txt(g, x, y, 'Wavelength (μm)', 20, 'middle', 'wb', name);
  t.setAttribute('textLength', 165);
  t.setAttribute('lengthAdjust', 'spacingAndGlyphs');
}
function intTitle(g, cx, cy, name) {
  const t = txt(g, 0, 0, '∫ |E(λ)|', 19, 'middle', 'sr', name);
  t.setAttribute('transform', 'translate(' + cx + ',' + cy + ') rotate(-90)');
  t.setAttribute('font-weight', 'bold');
  const s = mk(t, 'tspan', {'font-size': 12, dy: -7}, name + '-sup'); s.textContent = '2';
  const s2 = mk(t, 'tspan', {dy: 7}, name + '-dv'); s2.textContent = ' dV';
}

// ---------- panel (g) ----------
(function(){
  const g = mk(root, 'g', {}, 'panel-g-field-dwell');
  const sx = lin(4, 8.5, 90, 356.4);
  const sy = v => 1250.4 - Math.log10(v / 1e-5) * 223.8;
  frame(g, 90, 1037, 356.4, 1250.4, 'g-plot-frame');
  xTicks(g, wlTicks, sx, 1250.4, null, 4, 0.5, 'g-x');
  yTicks(g, gYTicks, sy, 90, null, 4, 'g-y');
  yTicks(g, [2e-5, 4e-5, 6e-5, 8e-5], sy, 90, null, 2.5, 'g-y-minor');
  wlTicks.forEach(t => txt(g, sx(t), 1269, String(t), 14, 'middle', 'wb', 'g-x-tick-label'));
  gYTicks.forEach((t, i) => {
    const e = txt(g, 83, sy(t) + 5, gYLabels[i][0], 12, 'end', 'wb', 'g-y-tick-label');
    const s = mk(e, 'tspan', {'font-size': 9, dy: -5}, 'g-y-tick-exp'); s.textContent = gYLabels[i][1];
  });
  series(g, gX, gTop, sx, sy, '#000', 2, 'g-series-top-contact');
  series(g, gX, gActive, sx, sy, '#ff0000', 2, 'g-series-active');
  series(g, gX, gBottom, sx, sy, '#0000ff', 2, 'g-series-bottom-contact');
  legend(g, 232.7, 1203, 352, 1246, [['Top contact', '#000'], ['Active', '#ff0000'], ['Bottom contact', '#0000ff']], 9, 'g-legend');
  txt(g, 348, 1055, 'DWELL', 13, 'end', 'wb', 'g-dwell-label');
  wlAxisTitle(g, 226, 1292, 'g-x-axis-title');
  intTitle(g, 32, 1140, 'g-y-axis-title');
  txt(g, 63, 1019, '(g)', 30, 'middle', 'lb', 'panel-label-g');
})();

// ---------- panel (h) ----------
(function(){
  const g = mk(root, 'g', {}, 'panel-h-field-mha');
  const sx = lin(4, 8.5, 90, 356.4);
  const sy = lin(-9, -2, 1519.9, 1305.8);
  frame(g, 90, 1305.8, 356.4, 1519.9, 'h-plot-frame');
  xTicks(g, wlTicks, sx, 1519.9, null, 4, 0.5, 'h-x');
  yTicks(g, hYTicks, sy, 90, null, 4, 'h-y');
  wlTicks.forEach(t => txt(g, sx(t), 1538, String(t), 14, 'middle', 'wb', 'h-x-tick-label'));
  hYTicks.forEach(t => {
    const e = txt(g, 79, sy(t) + 5, '10', 12, 'end', 'wb', 'h-y-tick-label');
    const s = mk(e, 'tspan', {'font-size': 9, dy: -5}, 'h-y-tick-exp'); s.textContent = String(t);
  });
  series(g, hX, hAuLog, sx, sy, '#00f0f0', 2, 'h-series-au');
  series(g, hX, hTopLog, sx, sy, '#000', 2, 'h-series-top-contact');
  series(g, hX, hActiveLog, sx, sy, '#ff0000', 2, 'h-series-active');
  series(g, hX, hBottomLog, sx, sy, '#0000ff', 2, 'h-series-bottom-contact');
  legend(g, 96.6, 1422, 215.6, 1480, [['Au', '#00f0f0'], ['Top contact', '#000'], ['Active', '#ff0000'], ['Bottom contact', '#0000ff']], 9, 'h-legend');
  txt(g, 346, 1324, 'MHA-DWELL', 13, 'end', 'wb', 'h-mha-label');
  wlAxisTitle(g, 223, 1560, 'h-x-axis-title');
  intTitle(g, 40, 1410, 'h-y-axis-title');
  txt(g, 63, 1291, '(h)', 30, 'middle', 'lb', 'panel-label-h');
})();

// ---------- panel (i) ----------
(function(){
  const g = mk(root, 'g', {}, 'panel-i-permittivity');
  const sx = lin(4, 8.5, 441.7, 721.2);
  const syAu = lin(0, 900, 1202, 1057.9);
  const syC = lin(0, 0.09, 1361, 1217.9);
  const syA = lin(0, 0.04, 1503.6, 1390);
  frame(g, 441.7, 1042, 721.2, 1202, 'i-top-frame');
  frame(g, 441.7, 1202, 721.2, 1361, 'i-mid-frame');
  frame(g, 441.7, 1361, 721.2, 1520.7, 'i-bottom-frame');
  xTicks(g, wlTicks, sx, 1202, 1042, 4, 0.5, 'i-top-x');
  xTicks(g, wlTicks, sx, 1361, 1202, 4, 0.5, 'i-mid-x');
  xTicks(g, wlTicks, sx, 1520.7, 1361, 4, 0.5, 'i-bot-x');
  yTicks(g, iAuTicks, syAu, 441.7, 721.2, 4, 'i-au-y');
  yTicks(g, iCTicks, syC, 441.7, 721.2, 4, 'i-c-y');
  yTicks(g, iATicks, syA, 441.7, 721.2, 4, 'i-a-y');
  wlTicks.forEach(t => txt(g, sx(t), 1032, String(t), 14, 'middle', 'wb', 'i-top-x-tick-label'));
  wlTicks.forEach(t => txt(g, sx(t), 1540, String(t), 14, 'middle', 'wb', 'i-x-tick-label'));
  iAuTicks.forEach(t => numLabel(g, 435.6, syAu(t) + 5, String(t), 'i-au-tick-label'));
  iCTicks.forEach((t, i) => numLabel(g, 435.6, syC(t) + 5, iCLabels[i], 'i-c-tick-label'));
  iATicks.forEach((t, i) => numLabel(g, 435.6, syA(t) + 5, iALabels[i], 'i-a-tick-label'));
  series(g, iX, iAu, sx, syAu, '#00f0f0', 2, 'i-series-au');
  series(g, iX, iContact, sx, syC, '#0000dd', 2, 'i-series-contact');
  series(g, iActX, iActive, sx, syA, '#ff0000', 1.6, 'i-series-active');
  const legs = [[1050.7, 1075.4, 530, 'Au', '#00f0f0'], [1208, 1233, 546, 'Contact', '#0000dd'], [1366.6, 1392, 546, 'Active', '#ff0000']];
  legs.forEach(l => {
    mk(g, 'rect', {x: 449, y: l[0], width: l[2] - 449, height: l[1] - l[0], fill: '#fff', stroke: '#999', 'stroke-width': 0.8}, 'i-legend-box');
    const cy = (l[0] + l[1]) / 2;
    mk(g, 'line', {x1: 453, y1: cy, x2: 483, y2: cy, stroke: l[4], 'stroke-width': 2}, 'i-legend-swatch');
    const t = txt(g, 488, cy + 4, 'ε', 14, 'start', 'sr', 'i-legend-label');
    const s = mk(t, 'tspan', {'font-size': 10, dy: -6}, 'i-legend-sub'); s.textContent = '"';
    const s2 = mk(t, 'tspan', {'font-size': 10, dy: 9, 'font-weight': 'bold'}, 'i-legend-sub-name'); s2.textContent = l[3];
  });
  const titles = [['Au', 1122], ['contact', 1282], ['active', 1441]];
  titles.forEach(tt => {
    const t = txt(g, 0, 0, 'ε', 26, 'middle', 'sr', 'i-y-axis-title');
    t.setAttribute('transform', 'translate(396,' + tt[1] + ') rotate(-90)');
    const s = mk(t, 'tspan', {'font-size': 18, dy: 5}, 'i-y-axis-title-sub'); s.textContent = tt[0];
    const q = txt(g, 0, 0, '"', 13, 'middle', 'lb', 'i-y-axis-title-mark');
    q.setAttribute('transform', 'translate(378,' + (tt[1] + 26 + tt[0].length * 4) + ') rotate(-90)');
  });
  wlAxisTitle(g, 582, 1560, 'i-x-axis-title');
  txt(g, 387, 1019, '(i)', 30, 'middle', 'lb', 'panel-label-i');
})();

// ---------- panel (j) ----------
(function(){
  const g = mk(root, 'g', {}, 'panel-j-absorption-dwell');
  const sx = lin(4, 8.5, 815.7, 1081.7);
  const sy = lin(0, 0.008, 1250.5, 1037.1);
  frame(g, 815.7, 1037.1, 1081.7, 1250.5, 'j-plot-frame');
  xTicks(g, wlTicks, sx, 1250.5, null, 4, 0.5, 'j-x');
  yTicks(g, jYTicks, sy, 815.7, null, 4, 'j-y');
  yTicks(g, [0.001, 0.003, 0.005, 0.007], sy, 815.7, null, 2.5, 'j-y-minor');
  wlTicks.forEach(t => txt(g, sx(t), 1269, String(t), 14, 'middle', 'wb', 'j-x-tick-label'));
  jYTicks.forEach((t, i) => numLabel(g, 808, sy(t) + 5, jYLabels[i], 'j-y-tick-label'));
  series(g, jX, jTop, sx, sy, '#000', 2, 'j-series-top-contact');
  series(g, jX, jBottom, sx, sy, '#0000ff', 2, 'j-series-bottom-contact');
  series(g, jActX, jActive, sx, sy, '#ff0000', 2, 'j-series-active');
  legend(g, 818, 1039, 931, 1082, [['Top contact', '#000'], ['Active', '#ff0000'], ['Bottom contact', '#0000ff']], 9, 'j-legend');
  wlAxisTitle(g, 950, 1292, 'j-x-axis-title');
  const yt = txt(g, 0, 0, 'Absorption', 20, 'middle', 'lb', 'j-y-axis-title');
  yt.setAttribute('transform', 'translate(762,1144) rotate(-90)');
  txt(g, 755, 1019, '(j)', 30, 'middle', 'lb', 'panel-label-j');
})();

// ---------- panel (k) ----------
(function(){
  const g = mk(root, 'g', {}, 'panel-k-absorption-mha');
  const sx = lin(4, 8.5, 815.7, 1081.7);
  const sy = lin(0, 0.08, 1518.8, 1305.8);
  frame(g, 815.7, 1305.8, 1081.7, 1518.8, 'k-plot-frame');
  xTicks(g, wlTicks, sx, 1518.8, null, 4, 0.5, 'k-x');
  yTicks(g, kYTicks, sy, 815.7, null, 4, 'k-y');
  yTicks(g, [0.01, 0.03, 0.05, 0.07], sy, 815.7, null, 2.5, 'k-y-minor');
  wlTicks.forEach(t => txt(g, sx(t), 1538, String(t), 14, 'middle', 'wb', 'k-x-tick-label'));
  kYTicks.forEach((t, i) => numLabel(g, 808, sy(t) + 5, kYLabels[i], 'k-y-tick-label'));
  series(g, kX, kAu, sx, sy, '#00f0f0', 2, 'k-series-au');
  series(g, kX, kActive, sx, sy, '#ff0000', 2, 'k-series-active');
  series(g, kX, kTop, sx, sy, '#000', 2, 'k-series-top-contact');
  series(g, kX, kBottom, sx, sy, '#0000ff', 2, 'k-series-bottom-contact');
  legend(g, 818, 1309, 937, 1367, [['Au', '#00f0f0'], ['Top contact', '#000'], ['Active', '#ff0000'], ['Bottom contact', '#0000ff']], 9, 'k-legend');
  wlAxisTitle(g, 950, 1560, 'k-x-axis-title');
  const yt = txt(g, 0, 0, 'Absorption', 20, 'middle', 'lb', 'k-y-axis-title');
  yt.setAttribute('transform', 'translate(762,1412) rotate(-90)');
  txt(g, 755, 1297, '(k)', 30, 'middle', 'lb', 'panel-label-k');
})();
</script>
</body></html>
